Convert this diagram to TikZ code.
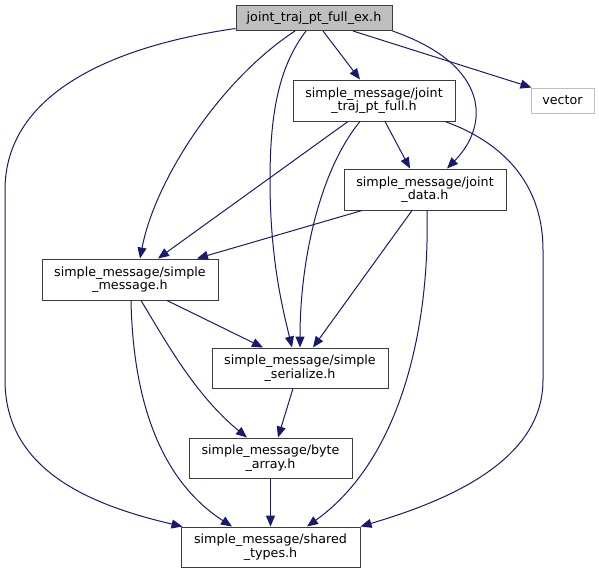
\documentclass[tikz,border=0pt]{standalone}
\usepackage{fontspec}
\setmainfont{DejaVu Sans}
\usetikzlibrary{arrows.meta}
\definecolor{edgeblue}{RGB}{25,25,112}
\definecolor{rootgray}{RGB}{191,191,191}
\definecolor{boxline}{RGB}{60,60,60}
\begin{document}
\begin{tikzpicture}[x=1pt,y=-1pt,
  box/.style={draw=boxline, line width=1pt, inner sep=0pt, align=center,
    font=\fontsize{12.7}{13.6}\selectfont},
  ghost/.style={box, draw=rootgray},
  edge/.style={draw=edgeblue, line width=1pt, -{Triangle[length=11pt,width=9pt]}}]
\useasboundingbox (0,0) rectangle (599,573);
\fill[white] (0,0) rectangle (599,573);

\node[box, fill=rootgray, minimum width=156pt, minimum height=25pt] (root) at (314,18) {joint\_traj\_pt\_full\_ex.h};
\node[ghost, minimum width=63pt, minimum height=25pt] (vector) at (562.5,100.5) {vector};
\node[box, minimum width=162pt, minimum height=41pt] (jtpf) at (374,100.5) {simple\_message/joint\\\_traj\_pt\_full.h};
\node[box, minimum width=162pt, minimum height=41pt] (jd) at (425,189.5) {simple\_message/joint\\\_data.h};
\node[box, minimum width=176pt, minimum height=41pt] (sm) at (130,279.5) {simple\_message/simple\\\_message.h};
\node[box, minimum width=176pt, minimum height=40pt] (ss) at (300,368) {simple\_message/simple\\\_serialize.h};
\node[box, minimum width=163pt, minimum height=40pt] (ba) at (270.5,458) {simple\_message/byte\\\_array.h};
\node[box, minimum width=179pt, minimum height=40pt] (st) at (270.5,547) {simple\_message/shared\\\_types.h};

% root edges
\draw[edge] ([xshift=39pt]root.south) -- ([xshift=1pt]vector.north west);
\draw[edge] ([xshift=9pt]root.south) -- ([xshift=-14pt]jtpf.north);
\draw[edge] (root.south east) .. controls (490,65) and (490,125) .. ([xshift=22pt]jd.north);
\draw[edge] ([xshift=-19pt]root.south) .. controls (220,80) and (155,180) .. ([xshift=10pt]sm.north);
\draw[edge] ([xshift=-8pt]root.south) .. controls (280,65) and (270,110) .. (270,180)
  .. controls (270,260) and (283,310) .. ([xshift=-8pt]ss.north);
\draw[edge] ([yshift=2.5pt]root.south west) .. controls (120,45) and (5,90) .. (5,190) -- (5,380)
  .. controls (5,470) and (90,505) .. ([xshift=2pt]st.north west);

% jtpf edges
\draw[edge] ([xshift=-26pt]jtpf.south) -- ([xshift=28pt]sm.north);
\draw[edge] ([xshift=-14pt]jtpf.south) .. controls (320,170) and (300,260) .. (ss.north);
\draw[edge] ([xshift=11pt]jtpf.south) -- ([xshift=-15pt]jd.north);
\draw[edge] ([xshift=71pt]jtpf.south) .. controls (510,145) and (543,190) .. (543,250) -- (543,380)
  .. controls (543,460) and (450,500) .. (st.north east);

% jd edges
\draw[edge] ([xshift=-63pt]jd.south) -- ([xshift=67pt]sm.north);
\draw[edge] ([xshift=-13pt]jd.south) -- ([xshift=13pt]ss.north);
\draw[edge] ([xshift=2pt]jd.south) .. controls (430,330) and (400,460) .. ([xshift=36.5pt]st.north);

% sm edges
\draw[edge] ([xshift=37pt]sm.south) -- ([xshift=-37pt]ss.north);
\draw[edge] ([xshift=11pt]sm.south) .. controls (165,340) and (195,395) .. ([xshift=-23.5pt]ba.north);
\draw[edge] ([xshift=1pt]sm.south) .. controls (133,400) and (160,480) .. ([xshift=-38.5pt]st.north);

% ss / ba edges
\draw[edge] ([xshift=-7pt]ss.south) -- ([xshift=7.5pt]ba.north);
\draw[edge] (ba.south) -- (st.north);
\end{tikzpicture}
\end{document}
